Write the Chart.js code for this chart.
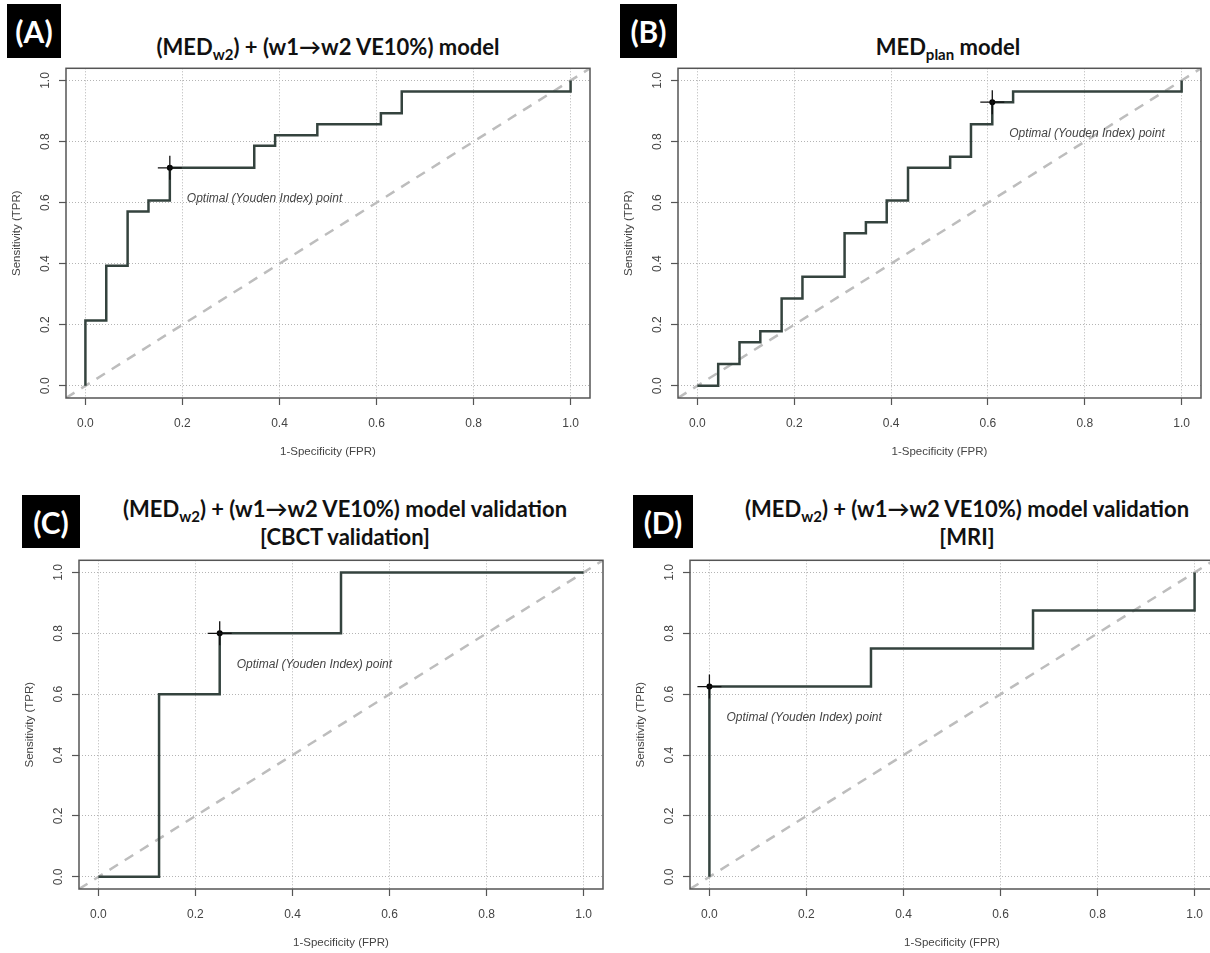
<!DOCTYPE html>
<html>
<head>
<meta charset="utf-8">
<script src="https://cdn.jsdelivr.net/npm/chart.js@4.4.1/dist/chart.umd.min.js"></script>
<style>
html, body { margin: 0; padding: 0; background: #fff; width: 1210px; height: 953px; overflow: hidden; }
body { position: relative; }
.tag { position: absolute; background: #000; color: #fff; font: bold 30px Lato, "DejaVu Sans", sans-serif;
  display: flex; align-items: center; justify-content: center; }
.ttl { position: absolute; transform: translateX(-50%); font: bold 22px Lato, "DejaVu Sans", sans-serif;
  color: #111; text-align: center; line-height: 28px; white-space: nowrap; }
.ttl sub { font-size: 15px; vertical-align: -5px; line-height: 0; }
canvas { position: absolute; }
</style>
</head>
<body>

<div class="tag" style="left:7px;top:4px;width:54px;height:54px">(A)</div>
<div class="tag" style="left:620px;top:4px;width:57px;height:54px">(B)</div>
<div class="tag" style="left:22px;top:495px;width:58px;height:53px">(C)</div>
<div class="tag" style="left:633px;top:495px;width:60px;height:53px">(D)</div>

<div class="ttl" style="left:328px;top:33px">(MED<sub>w2</sub>) + (w1→w2 VE10%) model</div>
<div class="ttl" style="left:948px;top:33px">MED<sub>plan</sub> model</div>
<div class="ttl" style="left:345px;top:495px">(MED<sub>w2</sub>) + (w1→w2 VE10%) model validation<br>[CBCT validation]</div>
<div class="ttl" style="left:967px;top:495px">(MED<sub>w2</sub>) + (w1→w2 VE10%) model validation<br>[MRI]</div>

<script>
// axis ticks shared by every panel
const tickVals = [0, 0.2, 0.4, 0.6, 0.8, 1.0];

// ROC corner points (1-specificity, sensitivity), drawn as steps
const fprA = [0, 0, 0.043, 0.087, 0.130, 0.174, 0.348, 0.391, 0.478, 0.609, 0.652, 1];
const tprA = [0, 0.214, 0.393, 0.571, 0.607, 0.714, 0.786, 0.821, 0.857, 0.893, 0.964, 1];
const optA = [0.174, 0.714];

const fprB = [0, 0.043, 0.087, 0.130, 0.174, 0.217, 0.304, 0.348, 0.391, 0.435, 0.522, 0.565, 0.609, 0.652, 1];
const tprB = [0, 0.071, 0.143, 0.179, 0.286, 0.357, 0.500, 0.536, 0.607, 0.714, 0.750, 0.857, 0.929, 0.964, 1];
const optB = [0.609, 0.929];

const fprC = [0, 0.125, 0.25, 0.5, 1];
const tprC = [0, 0.6, 0.8, 1.0, 1.0];
const optC = [0.25, 0.8];

const fprD = [0, 0, 0.333, 0.667, 1];
const tprD = [0, 0.625, 0.75, 0.875, 1];
const optD = [0, 0.625];

const optText = "Optimal (Youden Index) point";
const xTitle = "1-Specificity (FPR)";
const yTitle = "Sensitivity (TPR)";

const FONT = "'Liberation Sans', Arial, sans-serif";

function axis(pos, text) {
  const horiz = pos === "bottom";
  return {
    type: "linear",
    position: pos,
    min: -0.04,
    max: 1.04,
    afterBuildTicks: s => { s.ticks = tickVals.map(v => ({ value: v })); },
    afterFit: s => { if (horiz) s.height = 66; else s.width = 66; },
    grid: { color: "#b4b4b4", lineWidth: 1, tickLength: 7, tickColor: "#555", tickWidth: 1.2 },
    border: { display: false, dash: [1, 2] },
    ticks: {
      color: "#444",
      font: { family: FONT, size: 12 },
      padding: horiz ? 11 : 5,
      minRotation: horiz ? 0 : 90,
      maxRotation: horiz ? 0 : 90,
      crossAlign: horiz ? "near" : "center",
      autoSkip: false,
      callback: v => Number(v).toFixed(1)
    },
    title: {
      display: true,
      text: text,
      color: "#444",
      font: { family: FONT, size: 11.5 },
      padding: horiz ? { top: 0, bottom: 5.4 } : { top: 10.4, bottom: 0 }
    }
  };
}

// box around the plot region, like R's box()
const boxPlugin = {
  id: "box",
  afterDatasetsDraw(chart) {
    const a = chart.chartArea, ctx = chart.ctx;
    ctx.save();
    ctx.strokeStyle = "#555";
    ctx.lineWidth = 1.5;
    ctx.strokeRect(a.left, a.top, a.right - a.left, a.bottom - a.top);
    ctx.restore();
  }
};

// text next to the optimal threshold point
const optLabelPlugin = {
  id: "optLabel",
  afterDatasetsDraw(chart) {
    const pt = chart.getDatasetMeta(0).data[0];
    const ctx = chart.ctx;
    ctx.save();
    ctx.font = "italic 12px " + FONT;
    ctx.fillStyle = "#444";
    ctx.textAlign = "left";
    ctx.textBaseline = "middle";
    ctx.fillText(optText, pt.x + 17, pt.y + 31);
    ctx.restore();
  }
};

function makePanel(fpr, tpr, opt, box) {
  const cv = document.createElement("canvas");
  const w = box.r - box.l + 81, h = box.b - box.t + 76;
  cv.width = w; cv.height = h;
  cv.style.left = (box.l - 66) + "px";
  cv.style.top = (box.t - 10) + "px";
  cv.style.width = w + "px";
  cv.style.height = h + "px";
  document.body.appendChild(cv);

  new Chart(cv.getContext("2d"), {
    type: "line",
    data: {
      datasets: [
        {
          type: "scatter",
          data: [{ x: opt[0], y: opt[1] }],
          pointStyle: "cross",
          pointRadius: 12,
          borderColor: "#111",
          borderWidth: 1.3
        },
        {
          type: "scatter",
          data: [{ x: opt[0], y: opt[1] }],
          pointStyle: "circle",
          pointRadius: 3,
          backgroundColor: "#000",
          borderColor: "#000",
          borderWidth: 0
        },
        {
          data: fpr.map((x, i) => ({ x: x, y: tpr[i] })),
          stepped: "before",
          borderColor: "#34433e",
          borderWidth: 2.5,
          pointRadius: 0,
          fill: false
        },
        {
          data: [{ x: -0.04, y: -0.04 }, { x: 1.04, y: 1.04 }],
          borderColor: "#bdbdbd",
          borderDash: [10, 8],
          borderWidth: 2.5,
          pointRadius: 0,
          fill: false
        }
      ]
    },
    options: {
      responsive: false,
      animation: false,
      devicePixelRatio: 1,
      layout: { padding: { left: 0, top: 10, right: 15, bottom: 0 } },
      plugins: { legend: { display: false }, title: { display: false }, tooltip: { enabled: false } },
      scales: {
        x: axis("bottom", xTitle),
        y: axis("left", yTitle)
      }
    },
    plugins: [boxPlugin, optLabelPlugin]
  });
}

makePanel(fprA, tprA, optA, { l: 66, t: 65, r: 590, b: 398 });
makePanel(fprB, tprB, optB, { l: 678, t: 65, r: 1201, b: 398 });
makePanel(fprC, tprC, optC, { l: 79, t: 557, r: 603, b: 889 });
makePanel(fprD, tprD, optD, { l: 690, t: 557, r: 1214, b: 889 });
</script>
</body>
</html>
